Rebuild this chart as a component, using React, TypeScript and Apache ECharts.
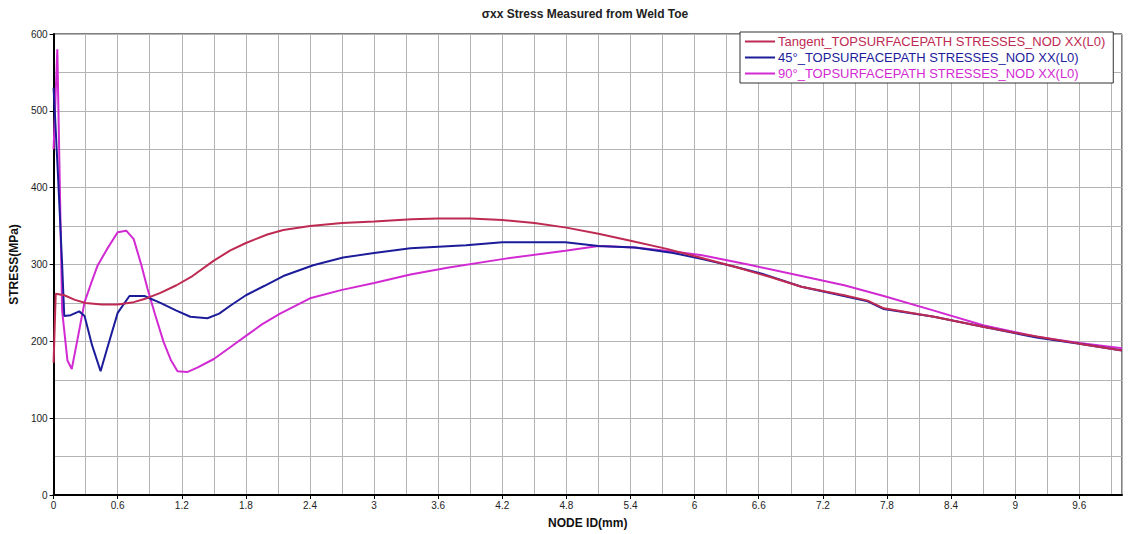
import React, { useEffect, useRef } from "react";
import * as echarts from "echarts";

const seriesNames = [
  "Tangent_TOPSURFACEPATH STRESSES_NOD XX(L0)",
  "45°_TOPSURFACEPATH STRESSES_NOD XX(L0)",
  "90°_TOPSURFACEPATH STRESSES_NOD XX(L0)",
];
const seriesColors = ["#be2a52", "#1c1c9a", "#d22ad2"];

const tangentX = [0, 0.02, 0.1, 0.2, 0.3, 0.45, 0.6, 0.75, 0.85, 1.0, 1.15, 1.3, 1.5, 1.65, 1.8, 2.0, 2.15, 2.4, 2.7, 3.0, 3.35, 3.6, 3.9, 4.2, 4.5, 4.8, 5.1, 5.4, 5.75, 6.05, 6.4, 6.7, 7.0, 7.4, 7.62, 7.77, 8.24, 8.7, 9.0, 9.3, 9.6, 10];
const tangentY = [172, 262, 260, 254, 250, 248, 248, 251, 255, 263, 273, 285, 305, 318, 328, 339, 345, 350, 354, 356, 359, 360, 360, 358, 354, 348, 340, 331, 320, 309, 296, 284, 271, 260, 253, 243, 232, 219, 211, 204, 197, 188];

const deg45X = [0, 0.04, 0.08, 0.1, 0.16, 0.24, 0.29, 0.36, 0.44, 0.5, 0.6, 0.71, 0.85, 1.0, 1.15, 1.28, 1.44, 1.55, 1.66, 1.8, 1.97, 2.15, 2.43, 2.71, 3.0, 3.34, 3.86, 4.2, 4.79, 5.1, 5.44, 5.8, 6.07, 6.35, 6.63, 7.0, 7.3, 7.62, 7.77, 8.24, 8.7, 9.2, 9.6, 10];
const deg45Y = [530, 420, 300, 233, 234, 239, 233, 195, 161, 190, 237, 259, 259, 250, 240, 232, 230, 236, 247, 260, 272, 285, 299, 309, 315, 321, 325, 329, 329, 324, 322, 315, 307, 298, 288, 271, 262, 252, 242, 232, 219, 205, 197, 188];

const deg90X = [0, 0.035, 0.08, 0.13, 0.17, 0.22, 0.29, 0.35, 0.41, 0.5, 0.6, 0.68, 0.75, 0.82, 0.88, 0.95, 1.03, 1.1, 1.16, 1.25, 1.35, 1.5, 1.65, 1.81, 1.95, 2.12, 2.4, 2.7, 3.0, 3.34, 3.7, 4.2, 4.79, 5.1, 5.44, 5.8, 6.07, 6.5, 7.0, 7.4, 7.77, 8.24, 8.7, 9.2, 9.6, 10];
const deg90Y = [450, 580, 240, 175, 164, 200, 251, 275, 298, 320, 342, 344, 333, 300, 268, 235, 199, 175, 161, 160, 166, 177, 192, 208, 222, 236, 256, 267, 276, 287, 296, 307, 318, 324, 322, 317, 312, 300, 285, 273, 259, 240, 221, 206, 198, 191];

const titleText = "σxx Stress Measured from Weld Toe";
const xAxisName = "NODE ID(mm)";
const yAxisName = "STRESS(MPa)";

const zip = (xs: number[], ys: number[]) => xs.map((x, i) => [x, ys[i]]);

export default function App() {
  const ref = useRef<HTMLDivElement>(null);
  useEffect(() => {
    if (!ref.current) return;
    const chart = echarts.init(ref.current, null, { renderer: "svg" });
    const font = "Arial, 'Liberation Sans', sans-serif";
    const allData = [zip(tangentX, tangentY), zip(deg45X, deg45Y), zip(deg90X, deg90Y)];
    chart.setOption({
      animation: false,
      backgroundColor: "#ffffff",
      textStyle: { fontFamily: font },
      graphic: [
        {
          type: "text",
          x: 585,
          y: 8,
          style: {
            text: titleText,
            fontFamily: font,
            fontWeight: "bold",
            fontSize: 12,
            fill: "#222",
            textAlign: "center",
          },
        },
      ],
      legend: {
        orient: "vertical",
        left: 740,
        top: 32,
        padding: [3, 8, 3, 5],
        itemGap: 3,
        itemWidth: 30,
        itemHeight: 2,
        icon: "rect",
        backgroundColor: "#ffffff",
        borderColor: "#333",
        borderWidth: 1,
        borderRadius: 0,
        textStyle: { fontSize: 13, fontFamily: font, padding: [0, 0, 0, -2] },
        data: seriesNames.map((n, i) => ({ name: n, textStyle: { color: seriesColors[i] } })),
      },
      grid: {
        left: 48,
        top: 34,
        right: 6,
        bottom: 37,
        show: true,
        borderColor: "#000",
        borderWidth: 1,
        backgroundColor: "transparent",
      },
      xAxis: {
        type: "value",
        min: 0,
        max: 10,
        interval: 0.6,
        name: xAxisName,
        nameLocation: "middle",
        nameGap: 22,
        nameTextStyle: { fontWeight: "bold", fontSize: 12, color: "#111", fontFamily: font },
        axisLine: { show: true, lineStyle: { color: "#000", width: 2 } },
        axisTick: { show: true, length: 4, lineStyle: { color: "#000" } },
        axisLabel: {
          color: "#222",
          fontSize: 10,
          margin: 5,
          showMaxLabel: false,
          formatter: (v: number) => String(Number(v.toFixed(1))),
        },
        splitLine: { show: true, lineStyle: { color: "#b4b4b4", width: 1 } },
        minorTick: { show: false, splitNumber: 2 },
        minorSplitLine: { show: true, lineStyle: { color: "#b4b4b4", width: 1 } },
      },
      yAxis: {
        type: "value",
        min: 0,
        max: 600,
        interval: 100,
        name: yAxisName,
        nameLocation: "middle",
        nameGap: 27,
        nameRotate: 90,
        nameTextStyle: { fontWeight: "bold", fontSize: 12, color: "#111", fontFamily: font },
        axisLine: { show: true, lineStyle: { color: "#000", width: 2 } },
        axisTick: { show: true, length: 4, lineStyle: { color: "#000" } },
        axisLabel: { color: "#222", fontSize: 10, margin: 6 },
        splitLine: { show: true, lineStyle: { color: "#b4b4b4", width: 1 } },
        minorTick: { show: false, splitNumber: 2 },
        minorSplitLine: { show: true, lineStyle: { color: "#b4b4b4", width: 1 } },
      },
      series: seriesNames.map((n, i) => ({
        name: n,
        type: "line",
        data: allData[i],
        showSymbol: false,
        symbol: "none",
        smooth: false,
        lineStyle: { color: seriesColors[i], width: 2 },
        itemStyle: { color: seriesColors[i] },
        z: 3 - i,
      })),
    });
    return () => chart.dispose();
  }, []);
  return (
    <div
      ref={ref}
      style={{ position: "fixed", left: 0, top: 0, width: 1128, height: 534 }}
    />
  );
}
